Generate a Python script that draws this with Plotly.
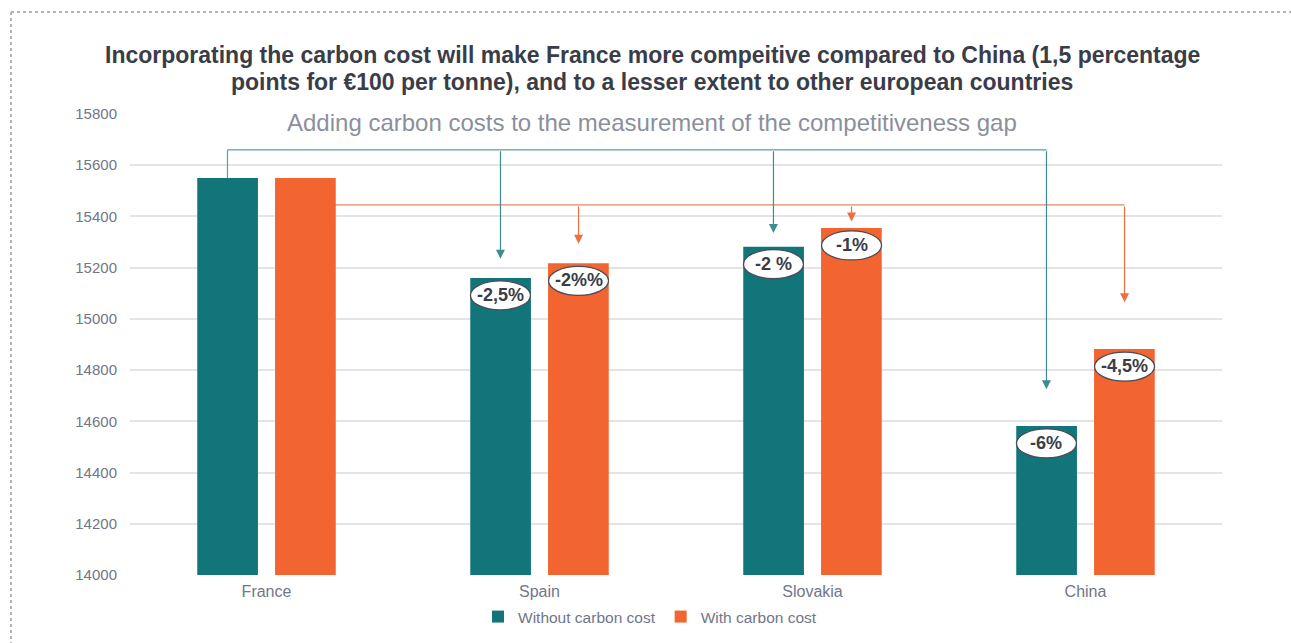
import plotly.graph_objects as go

# ---- data -------------------------------------------------------------
countries = ["France", "Spain", "Slovakia", "China"]
without_carbon = [15550, 15160, 15282, 14582]
with_carbon = [15550, 15217, 15355, 14882]
gap_labels_without = [None, "-2,5%", "-2 %", "-6%"]
gap_labels_with = [None, "-2%%", "-1%", "-4,5%"]
y_ticks = [14000, 14200, 14400, 14600, 14800, 15000, 15200, 15400, 15600, 15800]

title_lines = [
    "Incorporating the carbon cost will make France more compeitive compared to China (1,5 percentage",
    "points for €100 per tonne), and to a lesser extent to other european countries",
]
subtitle = "Adding carbon costs to the measurement of the competitiveness gap"

# ---- styling ----------------------------------------------------------
TEAL = "#117579"
ORANGE = "#F26430"
TEXT_DARK = "#3a3c48"
TEXT_GREY = "#71768a"
GRID = "#e4e4e8"
FONT = "Liberation Sans, Arial, sans-serif"

W, H = 1291, 643
L, R, T, B = 130, 69, 114, 68
BAR_OFF = 0.143          # half distance between the two bars of a group (category units)

# connector layout (y in data units): bracket height and arrow tip heights
TEAL_BRACKET_Y = 15660
ORANGE_BRACKET_Y = 15445
teal_tips = [None, 15235, 15335, 14725]
orange_tips = [None, 15293, 15380, 15065]

fig = go.Figure()
x_idx = list(range(len(countries)))

fig.add_trace(go.Bar(
    x=x_idx, y=without_carbon, name="Without carbon cost",
    marker=dict(color=TEAL, line=dict(width=0)), base=0,
))
fig.add_trace(go.Bar(
    x=x_idx, y=with_carbon, name="With carbon cost",
    marker=dict(color=ORANGE, line=dict(width=0)), base=0,
))

shapes = []
annotations = []

# teal bracket: from France (without) across to each other country
x_teal = [i - BAR_OFF for i in x_idx]
shapes.append(dict(type="line", xref="x", yref="y", x0=x_teal[0], x1=x_teal[0],
                   y0=without_carbon[0], y1=TEAL_BRACKET_Y, line=dict(color="#5f9ea2", width=1.2)))
shapes.append(dict(type="line", xref="x", yref="y", x0=x_teal[0], x1=x_teal[-1],
                   y0=TEAL_BRACKET_Y, y1=TEAL_BRACKET_Y, line=dict(color="#5f9ea2", width=1.2)))
for i in x_idx[1:]:
    annotations.append(dict(
        x=x_teal[i], y=teal_tips[i], ax=x_teal[i], ay=TEAL_BRACKET_Y,
        xref="x", yref="y", axref="x", ayref="y", text="", showarrow=True,
        arrowhead=2, arrowsize=1.5, arrowwidth=1.2, arrowcolor="#3f8c90",
    ))

# orange bracket: from France (with) across to each other country
x_or = [i + BAR_OFF for i in x_idx]
shapes.append(dict(type="line", xref="x", yref="y", x0=x_or[0], x1=x_or[-1],
                   y0=ORANGE_BRACKET_Y, y1=ORANGE_BRACKET_Y, line=dict(color="#e08a66", width=1.2),
                   layer="below"))
for i in x_idx[1:]:
    annotations.append(dict(
        x=x_or[i], y=orange_tips[i], ax=x_or[i], ay=ORANGE_BRACKET_Y,
        xref="x", yref="y", axref="x", ayref="y", text="", showarrow=True,
        arrowhead=2, arrowsize=1.5, arrowwidth=1.2, arrowcolor="#ee6f3e",
    ))

# gap labels in white ellipses near the top of each bar
def add_gap_label(xc, yv, txt):
    shapes.append(dict(
        type="circle", xref="x", yref="y", xsizemode="pixel", ysizemode="pixel",
        xanchor=xc, yanchor=yv, x0=-30, x1=30, y0=-32, y1=-3,
        fillcolor="white", line=dict(color="#4a4c58", width=1.3), layer="above",
    ))
    annotations.append(dict(
        x=xc, y=yv, xref="x", yref="y", text=f"<b>{txt}</b>", showarrow=False,
        yshift=-17, font=dict(family=FONT, size=18, color=TEXT_DARK),
    ))

for i in x_idx:
    if gap_labels_without[i]:
        add_gap_label(x_teal[i], without_carbon[i], gap_labels_without[i])
    if gap_labels_with[i]:
        add_gap_label(x_or[i], with_carbon[i], gap_labels_with[i])

# title (two lines) and subtitle
pw, ph = W - L - R, H - T - B
def py(pixel_y):
    return (H - B - pixel_y) / ph
def px(pixel_x):
    return (pixel_x - L) / pw

for line, yc in zip(title_lines, [55, 82]):
    annotations.append(dict(
        x=px(652), y=py(yc), xref="paper", yref="paper", text=f"<b>{line}</b>",
        showarrow=False, xanchor="center", yanchor="middle", borderpad=0,
        font=dict(family=FONT, size=23, color=TEXT_DARK),
    ))
annotations.append(dict(
    x=px(652), y=py(122), xref="paper", yref="paper", text=subtitle,
    showarrow=False, xanchor="center", yanchor="middle",
    font=dict(family=FONT, size=24, color="#8b8f9c"),
))

# dotted frame along the top and left edges
frame = dict(color="#b4b4b4", width=2, dash="dot")
shapes.append(dict(type="line", xref="paper", yref="paper",
                   x0=px(11), x1=px(W), y0=py(12), y1=py(12), line=frame))
shapes.append(dict(type="line", xref="paper", yref="paper",
                   x0=px(11), x1=px(11), y0=py(12), y1=py(H), line=frame))

fig.update_layout(
    width=W, height=H,
    margin=dict(l=L, r=R, t=T, b=B, autoexpand=False),
    paper_bgcolor="white", plot_bgcolor="white",
    barmode="group", bargap=0.43, bargroupgap=0.22,
    font=dict(family=FONT, size=15, color=TEXT_GREY),
    showlegend=True,
    legend=dict(orientation="h", x=px(650), y=py(617), xanchor="center", yanchor="middle",
                font=dict(family=FONT, size=15.5, color=TEXT_GREY), itemwidth=30,
                traceorder="normal"),
    shapes=shapes, annotations=annotations,
)
fig.update_xaxes(
    tickmode="array", tickvals=x_idx, ticktext=countries, range=[-0.5, 3.5],
    showgrid=False, zeroline=False, showline=False, ticks="", ticklabelstandoff=5,
    tickfont=dict(family=FONT, size=16, color=TEXT_GREY),
)
fig.update_yaxes(
    range=[14000, 15800], tickvals=y_ticks, ticktext=[str(v) for v in y_ticks],
    showgrid=True, gridcolor=GRID, gridwidth=1.5,
    zeroline=False, showline=False, ticks="", ticklabelstandoff=12,
    tickfont=dict(family=FONT, size=15, color=TEXT_GREY),
)

fig.write_html("out.html")
